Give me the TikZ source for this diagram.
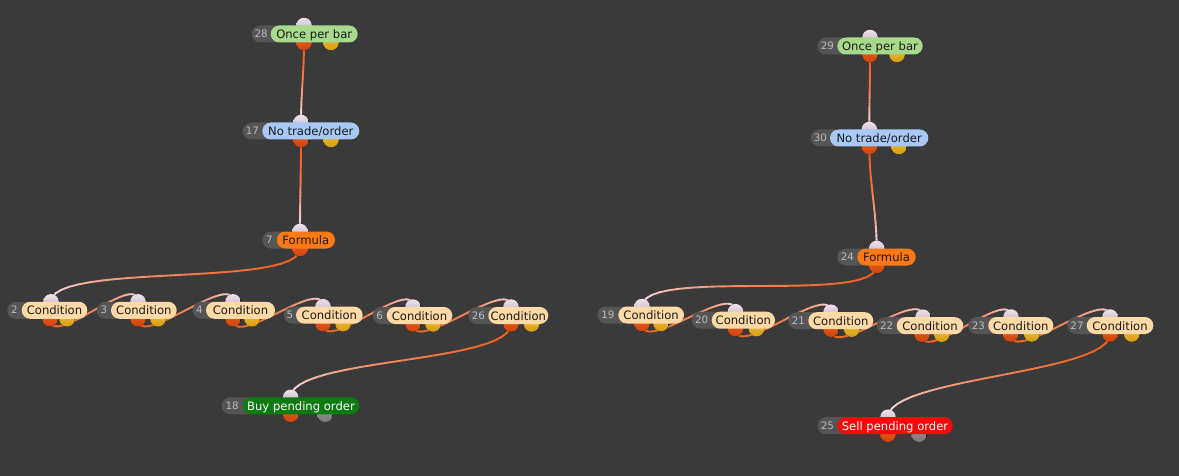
\documentclass[tikz,border=0pt]{standalone}
\usepackage{fontspec}
\setmainfont{DejaVu Sans}
\usetikzlibrary{calc}
\pgfdeclarelayer{bgl}\pgfdeclarelayer{conn}\pgfdeclarelayer{ports}
\pgfsetlayers{bgl,conn,ports,main}
\definecolor{bgc}{HTML}{3A3A3A}
\definecolor{numgray}{HTML}{555555}
\definecolor{numtext}{HTML}{BBBBBB}
\definecolor{cOnce}{HTML}{A8DA8C}
\definecolor{cNo}{HTML}{A8C8F6}
\definecolor{cForm}{HTML}{FF7A16}
\definecolor{cCond}{HTML}{FFDAA6}
\definecolor{cBuy}{HTML}{0E7A12}
\definecolor{cSell}{HTML}{F80808}
\definecolor{dtext}{HTML}{1A1A1A}
\definecolor{inTop}{HTML}{EEE2EC}
\definecolor{inBot}{HTML}{C0ACC0}
\definecolor{outTop}{HTML}{EE6220}
\definecolor{outBot}{HTML}{CC440E}
\definecolor{yTop}{HTML}{F2C234}
\definecolor{yBot}{HTML}{D49C16}
\definecolor{gTop}{HTML}{9C9C9C}
\definecolor{gBot}{HTML}{767676}
\definecolor{wireA}{HTML}{F2601E}
\definecolor{wireB}{HTML}{F6E4EE}
\tikzset{
  pilltxt/.style={inner sep=0pt, anchor=base, font=\fontsize{11.6}{13}\selectfont},
  numtxt/.style={inner sep=0pt, anchor=base, text=numtext, font=\fontsize{10.3}{12}\selectfont},
  inport/.style={top color=inTop, bottom color=inBot},
  outport/.style={top color=outTop, bottom color=outBot},
  yport/.style={top color=yTop, bottom color=yBot},
  gport/.style={top color=gTop, bottom color=gBot},
  wire/.style={line width=1.9pt, line cap=round}
}
% #1 name #2 num #3 label #4 grayL #5 pillL #6 pillR #7 cy #8 fill #9 text colour
\newcommand\fnode[9]{%
  \fill[numgray, rounded corners=8.5pt] (#4,#7-8.5) rectangle (#5+14,#7+8.5);
  \node[numtxt] (#1-num) at ({(#4+#5)/2},#7+3.6) {#2};
  \fill[#8, rounded corners=8.5pt] (#5,#7-8.5) rectangle (#6,#7+8.5);
  \node[pilltxt, text=#9] (#1) at ({(#5+#6)/2},#7+4.6) {#3};
}
% #1 name #2 cy #3 inX #4 out1X #5 out2X #6 out2 style
\newcommand\fports[6]{%
  \begin{pgfonlayer}{ports}
  \coordinate (#1-in) at (#3,#2-8.5);
  \coordinate (#1-out) at (#4,#2+8.5);
  \coordinate (#1-out2) at (#5,#2+8.5);
  \fill[inport] (#1-in) circle[radius=7.8pt];
  \fill[outport] (#1-out) circle[radius=7.8pt];
  \fill[#6] (#1-out2) circle[radius=7.8pt];
  \end{pgfonlayer}
}
\newcommand\fportsone[4]{%
  \begin{pgfonlayer}{ports}
  \coordinate (#1-in) at (#3,#2-8.5);
  \coordinate (#1-out) at (#4,#2+8.5);
  \fill[inport] (#1-in) circle[radius=7.8pt];
  \fill[outport] (#1-out) circle[radius=7.8pt];
  \end{pgfonlayer}
}
% #1 src #2 tgt #3 k #4 id
\newcommand\conn[4]{%
  \begin{pgfonlayer}{conn}
  \path (#1) .. controls ($(#1)+(0,#3)$) and ($(#2)+(0,-#3)$) .. (#2)
    \foreach \j in {0,...,24} {coordinate[pos=\j/24] (#4-\j)};
  \foreach \j [evaluate=\j as \nj using int(\j+1), evaluate=\j as \pc using int(100-100*(\j/23)^2)] in {0,...,23}
    {\draw[wire, color=wireA!\pc!wireB] (#4-\j) -- (#4-\nj);}
  \end{pgfonlayer}
}
\begin{document}
\begin{tikzpicture}[x=1pt,y=-1pt]
\begin{pgfonlayer}{bgl}
\fill[bgc] (0,0) rectangle (1179,476);
\end{pgfonlayer}
\useasboundingbox (0,0) rectangle (1179,476);
% ---------- left graph ----------
\fnode{n28}{28}{Once per bar}{251.7}{270.7}{357.7}{34}{cOnce}{dtext}
\fports{n28}{34}{304}{304}{331}{yport}
\fnode{n17}{17}{No trade/order}{242.7}{262.3}{359.3}{131}{cNo}{dtext}
\fports{n17}{131}{301}{301}{331}{yport}
\fnode{n7}{7}{Formula}{262.3}{276.7}{335}{240}{cForm}{dtext}
\fportsone{n7}{240}{300}{300}
\fnode{n2}{2}{Condition}{7.3}{21.7}{87.3}{310.3}{cCond}{dtext}
\fports{n2}{310.3}{51}{50}{67}{yport}
\fnode{n3}{3}{Condition}{96.7}{111}{176.7}{310.3}{cCond}{dtext}
\fports{n3}{310.3}{138}{138}{158}{yport}
\fnode{n4}{4}{Condition}{192.7}{206}{275}{310.3}{cCond}{dtext}
\fports{n4}{310.3}{233}{233}{252}{yport}
\fnode{n5}{5}{Condition}{284}{296}{362.7}{315.2}{cCond}{dtext}
\fports{n5}{315.2}{323}{323}{343}{yport}
\fnode{n6}{6}{Condition}{372.7}{386.7}{452.3}{315.5}{cCond}{dtext}
\fports{n6}{315.5}{413}{413}{433}{yport}
\fnode{n26}{26}{Condition}{468.3}{488.3}{548.3}{315.5}{cCond}{dtext}
\fports{n26}{315.5}{511}{511}{531.5}{yport}
\fnode{n18}{18}{Buy pending order}{221.7}{242.7}{359.3}{405.8}{cBuy}{white}
\fports{n18}{405.8}{290.7}{290.7}{325}{gport}
% ---------- right graph ----------
\fnode{n29}{29}{Once per bar}{817.3}{837.3}{922.7}{46}{cOnce}{dtext}
\fports{n29}{46}{870}{870}{897}{yport}
\fnode{n30}{30}{No trade/order}{810.7}{830}{928.3}{138}{cNo}{dtext}
\fports{n30}{138}{869.3}{869.3}{899}{yport}
\fnode{n24}{24}{Formula}{837.3}{857.3}{915.7}{257}{cForm}{dtext}
\fportsone{n24}{257}{876.7}{876.7}
\fnode{n19}{19}{Condition}{597.3}{618.3}{684}{315}{cCond}{dtext}
\fports{n19}{315}{642}{642}{661}{yport}
\fnode{n20}{20}{Condition}{691.7}{711.7}{775}{320.2}{cCond}{dtext}
\fports{n20}{320.2}{735.5}{735.5}{756.5}{yport}
\fnode{n21}{21}{Condition}{788.3}{808.3}{873.3}{320.7}{cCond}{dtext}
\fports{n21}{320.7}{831}{831}{851.7}{yport}
\fnode{n22}{22}{Condition}{876.7}{896.7}{963.3}{325.7}{cCond}{dtext}
\fports{n22}{325.7}{923}{922}{941.7}{yport}
\fnode{n23}{23}{Condition}{968.3}{988.3}{1053.3}{325.5}{cCond}{dtext}
\fports{n23}{325.5}{1011}{1010.5}{1031.7}{yport}
\fnode{n27}{27}{Condition}{1067.3}{1086.7}{1153.3}{325.5}{cCond}{dtext}
\fports{n27}{325.5}{1110}{1110}{1131.7}{yport}
\fnode{n25}{25}{Sell pending order}{817.3}{837.3}{952.7}{425.7}{cSell}{white}
\fports{n25}{425.7}{888}{888}{919}{gport}
% ---------- connectors ----------
\conn{n28-out}{n17-in}{30}{ca}
\conn{n17-out}{n7-in}{35}{cb}
\conn{n7-out}{n2-in}{40}{cc}
\conn{n2-out}{n3-in}{32}{cd}
\conn{n3-out}{n4-in}{32}{ce}
\conn{n4-out}{n5-in}{32}{cf}
\conn{n5-out}{n6-in}{32}{cg}
\conn{n6-out}{n26-in}{32}{ch}
\conn{n26-out}{n18-in}{40}{ci}
\conn{n29-out}{n30-in}{30}{cj}
\conn{n30-out}{n24-in}{35}{ck}
\conn{n24-out}{n19-in}{40}{cl}
\conn{n19-out}{n20-in}{32}{cm}
\conn{n20-out}{n21-in}{32}{cn}
\conn{n21-out}{n22-in}{32}{co}
\conn{n22-out}{n23-in}{32}{cp}
\conn{n23-out}{n27-in}{32}{cq}
\conn{n27-out}{n25-in}{40}{cr}
\end{tikzpicture}
\end{document}
